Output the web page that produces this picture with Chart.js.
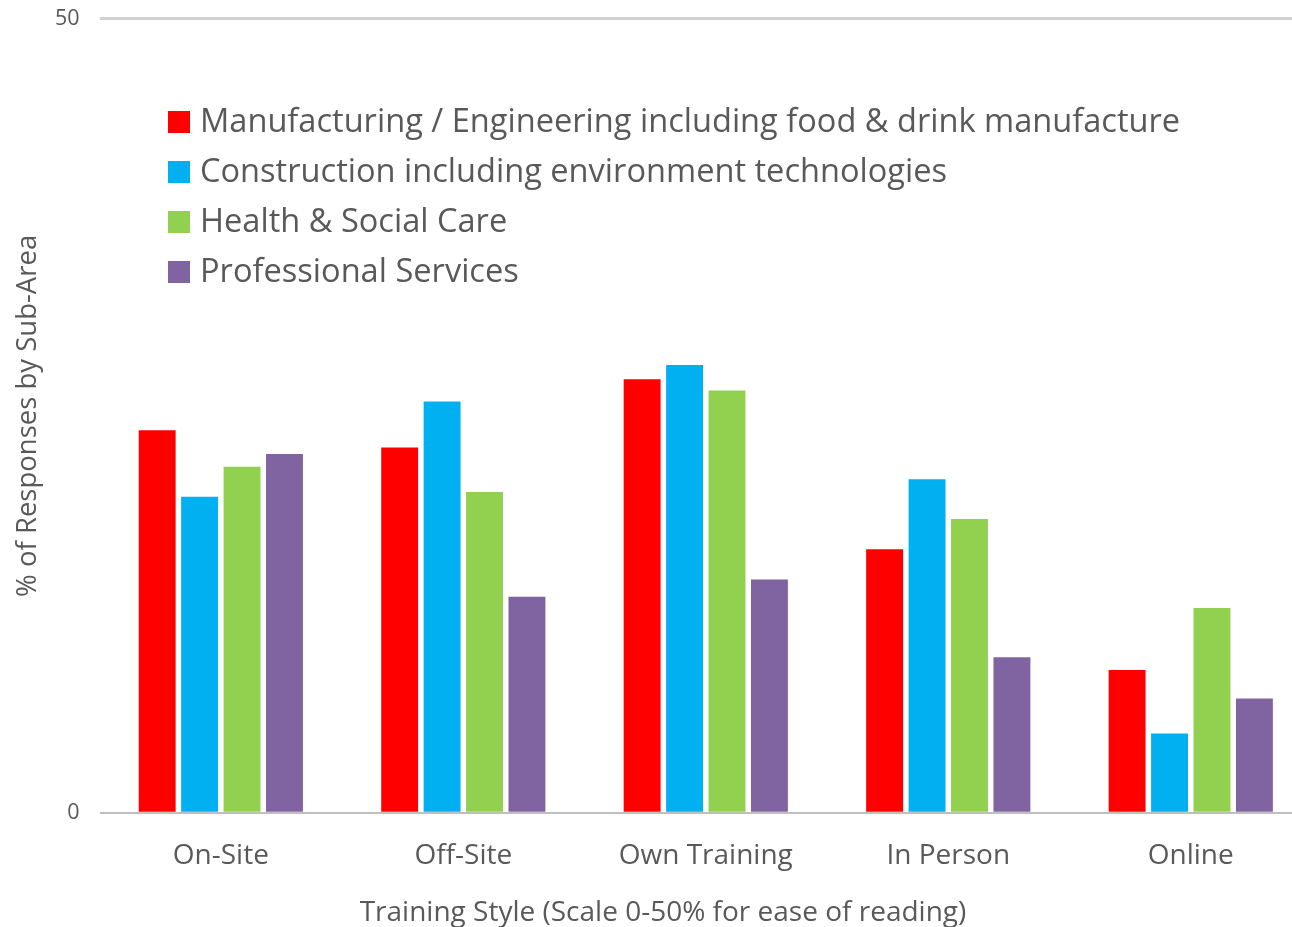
<!DOCTYPE html>
<html>
<head>
<meta charset="utf-8">
<script src="https://cdn.jsdelivr.net/npm/chart.js@4.4.1/dist/chart.umd.min.js"></script>
<style>
  html, body { margin: 0; padding: 0; background: #fff; overflow: hidden; }
  #wrap { width: 1312px; height: 944px; margin-top: -14px; }
</style>
</head>
<body>
<div id="wrap"><canvas id="myChart"></canvas></div>
<script>
// training styles and sub-area series (% of responses)
var categories = ['On-Site', 'Off-Site', 'Own Training', 'In Person', 'Online'];
var seriesNames = [
    'Manufacturing / Engineering including food & drink manufacture',
    'Construction including environment technologies',
    'Health & Social Care',
    'Professional Services'
];
var manufacturing = [24.1, 23.0, 27.3, 16.6, 9.0];
var construction = [19.9, 25.9, 28.2, 21.0, 5.0];
var health = [21.8, 20.2, 26.6, 18.5, 12.9];
var professional = [22.6, 13.6, 14.7, 9.8, 7.2];
var colours = ['#ff0000', '#00b0f0', '#92d050', '#8064a2'];
var xTitle = 'Training Style (Scale 0-50% for ease of reading)';

var font = "'Open Sans', 'Noto Sans', sans-serif";
var grey = '#595959';
var shift = 14; // canvas is pulled up by this much

// legend sits inside the plot, top left; x title is drawn here too
// because in the original it isn't centred on the plot
var insideLegend = {
    id: 'insideLegend',
    afterDraw: function(chart) {
        var c = chart.ctx;
        c.save();
        c.font = '32.6px ' + font;
        c.textBaseline = 'middle';
        chart.data.datasets.forEach(function(ds, i) {
            var y = 122 + shift + i * 50;
            c.fillStyle = ds.backgroundColor;
            c.fillRect(168, y - 11, 22, 22);
            c.fillStyle = grey;
            c.fillText(ds.label, 200, y + 1);
        });
        var xs = chart.scales.x;
        c.font = '28px ' + font;
        c.textAlign = 'center';
        c.fillStyle = grey;
        c.fillText(xTitle, 663, xs.bottom - 28 * 1.2 / 2);
        c.restore();
    }
};

var seriesData = [manufacturing, construction, health, professional];
var datasets = seriesData.map(function(vals, i) {
    return {
        label: seriesNames[i],
        data: vals,
        backgroundColor: colours[i],
        categoryPercentage: 0.7,
        barPercentage: 0.87
    };
});

var ctx = document.getElementById('myChart').getContext('2d');
var myChart = new Chart(ctx, {
    type: 'bar',
    data: { labels: categories, datasets: datasets },
    options: {
        responsive: true,
        maintainAspectRatio: false,
        animation: false,
        layout: { padding: { top: 0, right: 0, bottom: 0, left: 12 } },
        plugins: {
            legend: { display: false },
            tooltip: { enabled: false }
        },
        scales: {
            x: {
                grid: { display: false },
                border: { display: false },
                ticks: { color: grey, font: { family: font, size: 28 }, padding: 18 },
                title: {
                    display: true,
                    text: xTitle,
                    color: 'rgba(0,0,0,0)',
                    font: { family: font, size: 28 },
                    padding: { top: 6, bottom: 0 }
                }
            },
            y: {
                min: 0,
                max: 50,
                afterFit: function(scale) { scale.width -= 10; },
                ticks: { stepSize: 50, color: grey, font: { family: font, size: 21.5 }, padding: 20 },
                border: { display: false },
                grid: {
                    drawTicks: false,
                    color: function(c) { return c.tick.value === 0 ? '#bfbfbf' : '#d0d0d0'; },
                    lineWidth: function(c) { return c.tick.value === 0 ? 2 : 3; }
                },
                title: {
                    display: true,
                    text: '% of Responses by Sub-Area',
                    color: grey,
                    font: { family: font, size: 27.5 },
                    padding: { top: 0, bottom: 0 }
                }
            }
        }
    },
    plugins: [insideLegend]
});
</script>
</body>
</html>
